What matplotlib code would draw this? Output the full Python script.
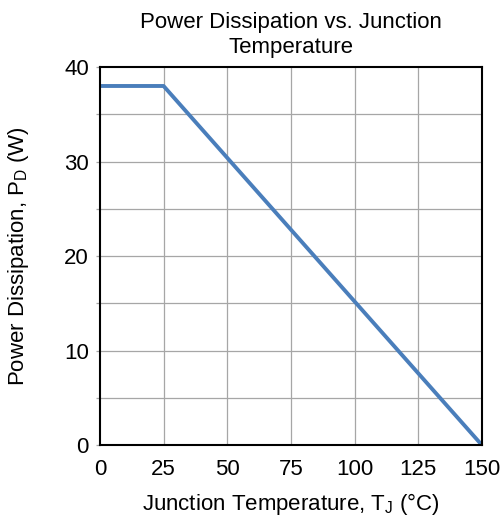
import matplotlib.pyplot as plt

plt.rcParams['font.family'] = ['Liberation Sans', 'DejaVu Sans']
plt.rcParams['mathtext.fontset'] = 'custom'
plt.rcParams['mathtext.rm'] = 'Liberation Sans'

# data: derating curve
temp_c = [0, 25, 150]
power_w = [38, 38, 0]

x_ticks = [0, 25, 50, 75, 100, 125, 150]
y_ticks = [0, 10, 20, 30, 40]
y_grid = [5, 10, 15, 20, 25, 30, 35]

fig = plt.figure(figsize=(5.02, 5.2), dpi=100)
ax = fig.add_axes([0.199, 0.144, 0.761, 0.727])

ax.plot(temp_c, power_w, color='#4a7ebb', lw=2.8, solid_capstyle='butt', zorder=3)

ax.set_xlim(0, 150)
ax.set_ylim(0, 40)
ax.set_xticks(x_ticks)
ax.set_yticks(y_ticks)
ax.set_yticks(y_grid, minor=True)

for x in x_ticks[1:-1]:
    ax.axvline(x, color='#a6a6a6', lw=0.9, zorder=1)
for y in y_grid:
    ax.axhline(y, color='#a6a6a6', lw=0.9, zorder=1)

ax.tick_params(axis='x', length=0, pad=10, labelsize=16)
ax.tick_params(axis='y', which='both', length=3, width=0.9, color='#a6a6a6', pad=5, labelsize=16)
ax.tick_params(axis='y', which='minor', labelleft=False)

for s in ax.spines.values():
    s.set_linewidth(1.5)
    s.set_color('black')
    s.set_zorder(4)

ax.set_title('Power Dissipation vs. Junction\nTemperature', fontsize=16, pad=10, linespacing=1.25)
ax.set_xlabel(r'Junction Temperature, T$_\mathregular{J}$ (°C)', fontsize=16, labelpad=8)
ax.set_ylabel(r'Power Dissipation, P$_\mathregular{D}$ (W)', fontsize=16, labelpad=24)

fig.savefig('out.png', dpi=100)
